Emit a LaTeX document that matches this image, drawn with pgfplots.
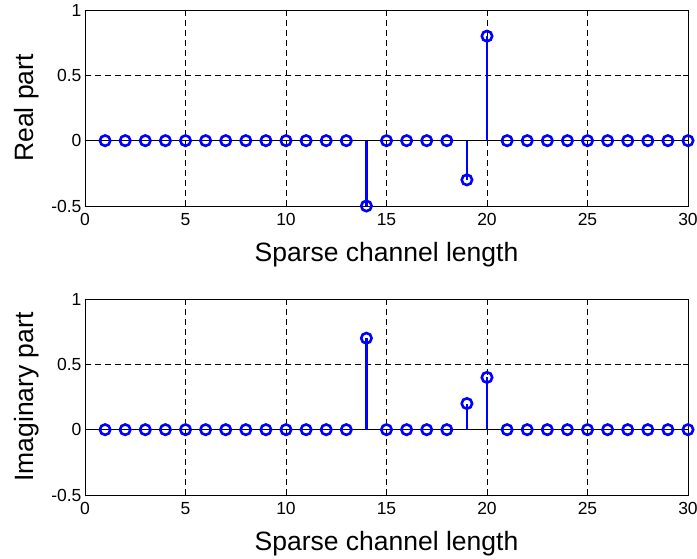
\documentclass[border=0pt]{standalone}
\usepackage{fontspec}
\setmainfont{Liberation Sans}
\usepackage{pgfplots}
\pgfplotsset{compat=1.18}

\definecolor{stemblue}{RGB}{0,0,255}

\pgfplotsset{
  stemaxis/.style={
    scale only axis,
    width=603pt, height=196pt,
    xmin=0, xmax=30, ymin=-0.5, ymax=1,
    xtick={0,5,...,30},
    ytick={-0.5,0,0.5,1},
    tick align=inside,
    major tick length=5pt,
    tick style={black, line width=0.6pt},
    axis line style={black, line width=0.8pt},
    grid=major,
    grid style={black, dash pattern=on 6pt off 4pt, line width=0.5pt},
    ticklabel style={font=\fontsize{17.5}{20}\selectfont},
    xticklabel style={yshift=-4pt},
    /pgf/number format/assume math mode=true,
    xlabel={Sparse channel length},
    label style={font=\fontsize{26.5}{30}\selectfont},
    xlabel style={at={(axis description cs:0.5,0)}, anchor=base, yshift=-56pt},
    % shifts act in the rotated frame: yshift moves the label left
    ylabel style={at={(axis description cs:0,0.5)}, anchor=south, yshift=42pt},
  },
  stem/.style={
    ycomb, stemblue, line width=2.3pt,
    mark=o, mark size=5.2pt,
    mark options={stemblue, line width=2.6pt, fill=none},
  },
}

\pgfplotstableread{
x re im
1 0 0
2 0 0
3 0 0
4 0 0
5 0 0
6 0 0
7 0 0
8 0 0
9 0 0
10 0 0
11 0 0
12 0 0
13 0 0
14 -0.5 0.7
15 0 0
16 0 0
17 0 0
18 0 0
19 -0.3 0.2
20 0.8 0.4
21 0 0
22 0 0
23 0 0
24 0 0
25 0 0
26 0 0
27 0 0
28 0 0
29 0 0
30 0 0
}\datatable

\begin{document}
\begin{tikzpicture}
\begin{axis}[stemaxis, name=top, ylabel={Real part}]
  \addplot[black, line width=0.8pt, forget plot] coordinates {(0,0) (30,0)};
  \addplot[stem] table[x=x, y=re] {\datatable};
\end{axis}
\begin{axis}[stemaxis, at={(top.north west)}, anchor=north west, yshift=-289pt, ylabel={Imaginary part}]
  \addplot[black, line width=0.8pt, forget plot] coordinates {(0,0) (30,0)};
  \addplot[stem] table[x=x, y=im] {\datatable};
\end{axis}
\pgfresetboundingbox
\path ([xshift=-85pt,yshift=10pt]top.north west) rectangle ([xshift=612pt,yshift=-549pt]top.north west);
\end{tikzpicture}
\end{document}
